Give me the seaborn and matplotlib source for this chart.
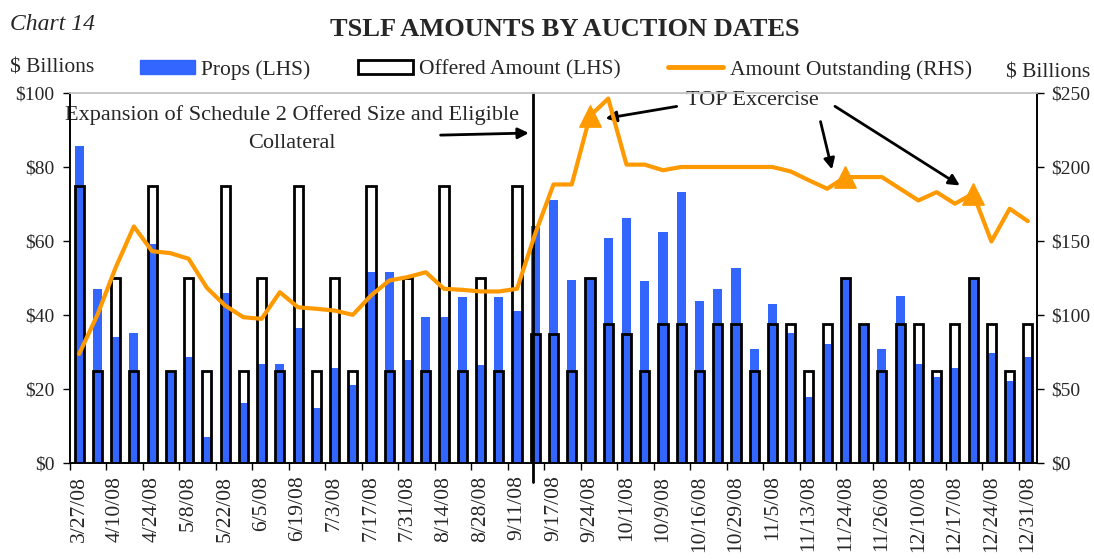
import numpy as np
import matplotlib
matplotlib.use("Agg")
import matplotlib.pyplot as plt
import seaborn as sns
from matplotlib.patches import Patch
from matplotlib.lines import Line2D

# ---- data ----
date_labels = ["3/27/08", "4/10/08", "4/24/08", "5/8/08", "5/22/08", "6/5/08", "6/19/08",
               "7/3/08", "7/17/08", "7/31/08", "8/14/08", "8/28/08", "9/11/08", "9/17/08",
               "9/24/08", "10/1/08", "10/9/08", "10/16/08", "10/29/08", "11/5/08", "11/13/08",
               "11/24/08", "11/26/08", "12/10/08", "12/17/08", "12/24/08", "12/31/08"]

props = [85.8, 47.0, 34.1, 35.2, 59.2, 25.0, 28.7, 7.1, 46.0, 16.1, 26.8, 26.8, 36.6,
         15.0, 25.8, 21.2, 51.7, 51.7, 27.9, 39.5, 39.5, 44.9, 26.6, 44.9, 41.0, 64.1,
         71.2, 49.5, 49.8, 60.9, 66.3, 49.3, 62.5, 73.3, 43.9, 47.1, 52.8, 30.9, 43.1, 35.1,
         17.9, 32.2, 50.0, 37.5, 30.9, 45.2, 26.8, 23.3, 25.8, 50.0, 29.8, 22.2, 28.7]

offered = [75, 25, 50, 25, 75, 25, 50, 25, 75, 25, 50, 25, 75,
           25, 50, 25, 75, 25, 50, 25, 75, 25, 50, 25, 75, 35,
           35, 25, 50, 37.5, 35, 25, 37.5, 37.5, 25, 37.5, 37.5, 25, 37.5, 37.5,
           25, 37.5, 50, 37.5, 25, 37.5, 37.5, 25, 37.5, 50, 37.5, 25, 37.5]

outstanding = [73.7, 100.0, 132.0, 159.8, 143.1, 141.8, 138.0, 118.4, 106.4, 98.5, 97.4, 115.4, 105.2,
               104.2, 103.0, 100.1, 113.2, 123.3, 125.6, 128.9, 117.7, 117.0, 115.9, 115.9, 117.7, 155.0,
               188.2, 188.2, 234.5, 246.2, 201.6, 201.6, 197.8, 200.0, 200.0, 200.0, 200.0, 200.0, 200.0, 197.0,
               191.0, 185.3, 193.2, 193.2, 193.2, 185.3, 177.4, 183.0, 175.2, 182.0, 149.7, 171.8, 163.4]

top_idx = [28, 42, 49]   # TOP exercise auctions

BLUE = "#3366FF"
ORANGE = "#FF9900"

pos = list(range(len(props)))

sns.set_theme(style="white")
plt.rcParams["font.family"] = ["Liberation Serif", "DejaVu Serif"]
FS_TICK = 14
FS_TXT = 16
FS_LEG = 15.5

fig = plt.figure(figsize=(10.94, 5.59), dpi=100)
ax = fig.add_axes([70 / 1094, 1 - 463 / 559, 967 / 1094, 370 / 559])

# ---- bars (LHS) ----
sns.barplot(x=pos, y=props, color=BLUE, width=0.5, linewidth=0, errorbar=None,
            saturation=1, ax=ax)
sns.barplot(x=pos, y=offered, color="black", fill=False, width=0.5, linewidth=2,
            errorbar=None, ax=ax)

ax.set_xlim(-0.5, len(props) - 0.5)
ax.set_ylim(0, 100)
ax.set_yticks(np.arange(0, 101, 20))
ax.set_yticklabels([f"${v}" for v in range(0, 101, 20)], fontsize=FS_TICK)
ax.set_xticks(np.arange(-0.5, len(props), 2))
ax.set_xticklabels([])
ax.set_xticks(np.arange(0, len(props), 2), minor=True)
ax.set_xticklabels(date_labels, minor=True, rotation=90, fontsize=15.5)
ax.tick_params(axis="x", which="major", direction="out", length=5, width=1, color="black", bottom=True)
ax.tick_params(axis="x", which="minor", length=0, pad=9)
ax.tick_params(axis="y", direction="out", length=5, width=1, color="black", left=True, pad=6)
ax.set_xlabel("")
ax.set_ylabel("")
for s in ["left", "bottom", "right"]:
    ax.spines[s].set_color("black")
    ax.spines[s].set_linewidth(1.2)
ax.spines["top"].set_color("#c8c8c8")

# ---- amount outstanding (RHS) ----
ax2 = ax.twinx()
sns.lineplot(x=pos, y=outstanding, color=ORANGE, linewidth=3, ax=ax2)
sns.scatterplot(x=[pos[i] for i in top_idx], y=[outstanding[i] for i in top_idx],
                marker="^", s=230, color=ORANGE, edgecolor=ORANGE, ax=ax2, zorder=5)
ax2.set_ylim(0, 250)
ax2.set_yticks(np.arange(0, 251, 50))
ax2.set_yticklabels([f"${v}" for v in range(0, 251, 50)], fontsize=FS_TICK)
ax2.tick_params(axis="y", direction="out", length=5, width=1, color="black", right=True, pad=5)
ax2.set_ylabel("")
for s in ["left", "bottom", "right"]:
    ax2.spines[s].set_color("black")
    ax2.spines[s].set_linewidth(1.2)
ax2.spines["top"].set_color("#c8c8c8")
ax2.set_xlim(-0.5, len(props) - 0.5)

# ---- annotations ----
ax.axvline(24.85, ymin=-0.05, ymax=1, color="black", lw=2, clip_on=False, zorder=6)
ax.text(11.66, 90.3, "Expansion of Schedule 2 Offered Size and Eligible\nCollateral",
        ha="center", va="center", fontsize=FS_TXT, linespacing=1.65)
ax.annotate("", xy=(24.8, 89.2), xytext=(19.66, 88.6),
            arrowprops=dict(arrowstyle="-|>", color="black", lw=2, mutation_scale=16))

ax.text(36.9, 98.1, "TOP Excercise", ha="center", va="center", fontsize=FS_TXT)
arrow_kw = dict(arrowstyle="-|>", color="black", lw=2, mutation_scale=16)
ax.annotate("", xy=(28.7, 93.0), xytext=(32.9, 96.5), arrowprops=arrow_kw)
ax.annotate("", xy=(41.3, 78.6), xytext=(40.6, 93.0), arrowprops=arrow_kw)
ax.annotate("", xy=(48.4, 74.6), xytext=(41.3, 96.8), arrowprops=arrow_kw)

# ---- titles and legend ----
fig.text(10 / 1094, 1 - 25 / 559, "Chart 14", style="italic", fontsize=17, va="center")
fig.text(565 / 1094, 1 - 30 / 559, "TSLF AMOUNTS BY AUCTION DATES", fontweight="bold",
         fontsize=19, ha="center", va="center")
fig.text(10 / 1094, 1 - 68 / 559, "$ Billions", fontsize=FS_LEG, va="center")
fig.text(1090 / 1094, 1 - 73 / 559, "$ Billions", fontsize=FS_LEG, va="center", ha="right")

handles = [Patch(facecolor=BLUE, edgecolor=BLUE),
           Patch(facecolor="white", edgecolor="black", linewidth=2),
           Line2D([0], [0], color=ORANGE, lw=3.5)]
fig.legend(handles, ["Props (LHS)", "Offered Amount (LHS)", "Amount Outstanding (RHS)"],
           loc="center left", bbox_to_anchor=(140 / 1094, 1 - 70 / 559), ncol=3,
           frameon=False, fontsize=FS_LEG, handlelength=2.55, handleheight=0.65,
           handletextpad=0.3, columnspacing=2.2, borderpad=0, borderaxespad=0)

fig.savefig("out.png", dpi=100)
